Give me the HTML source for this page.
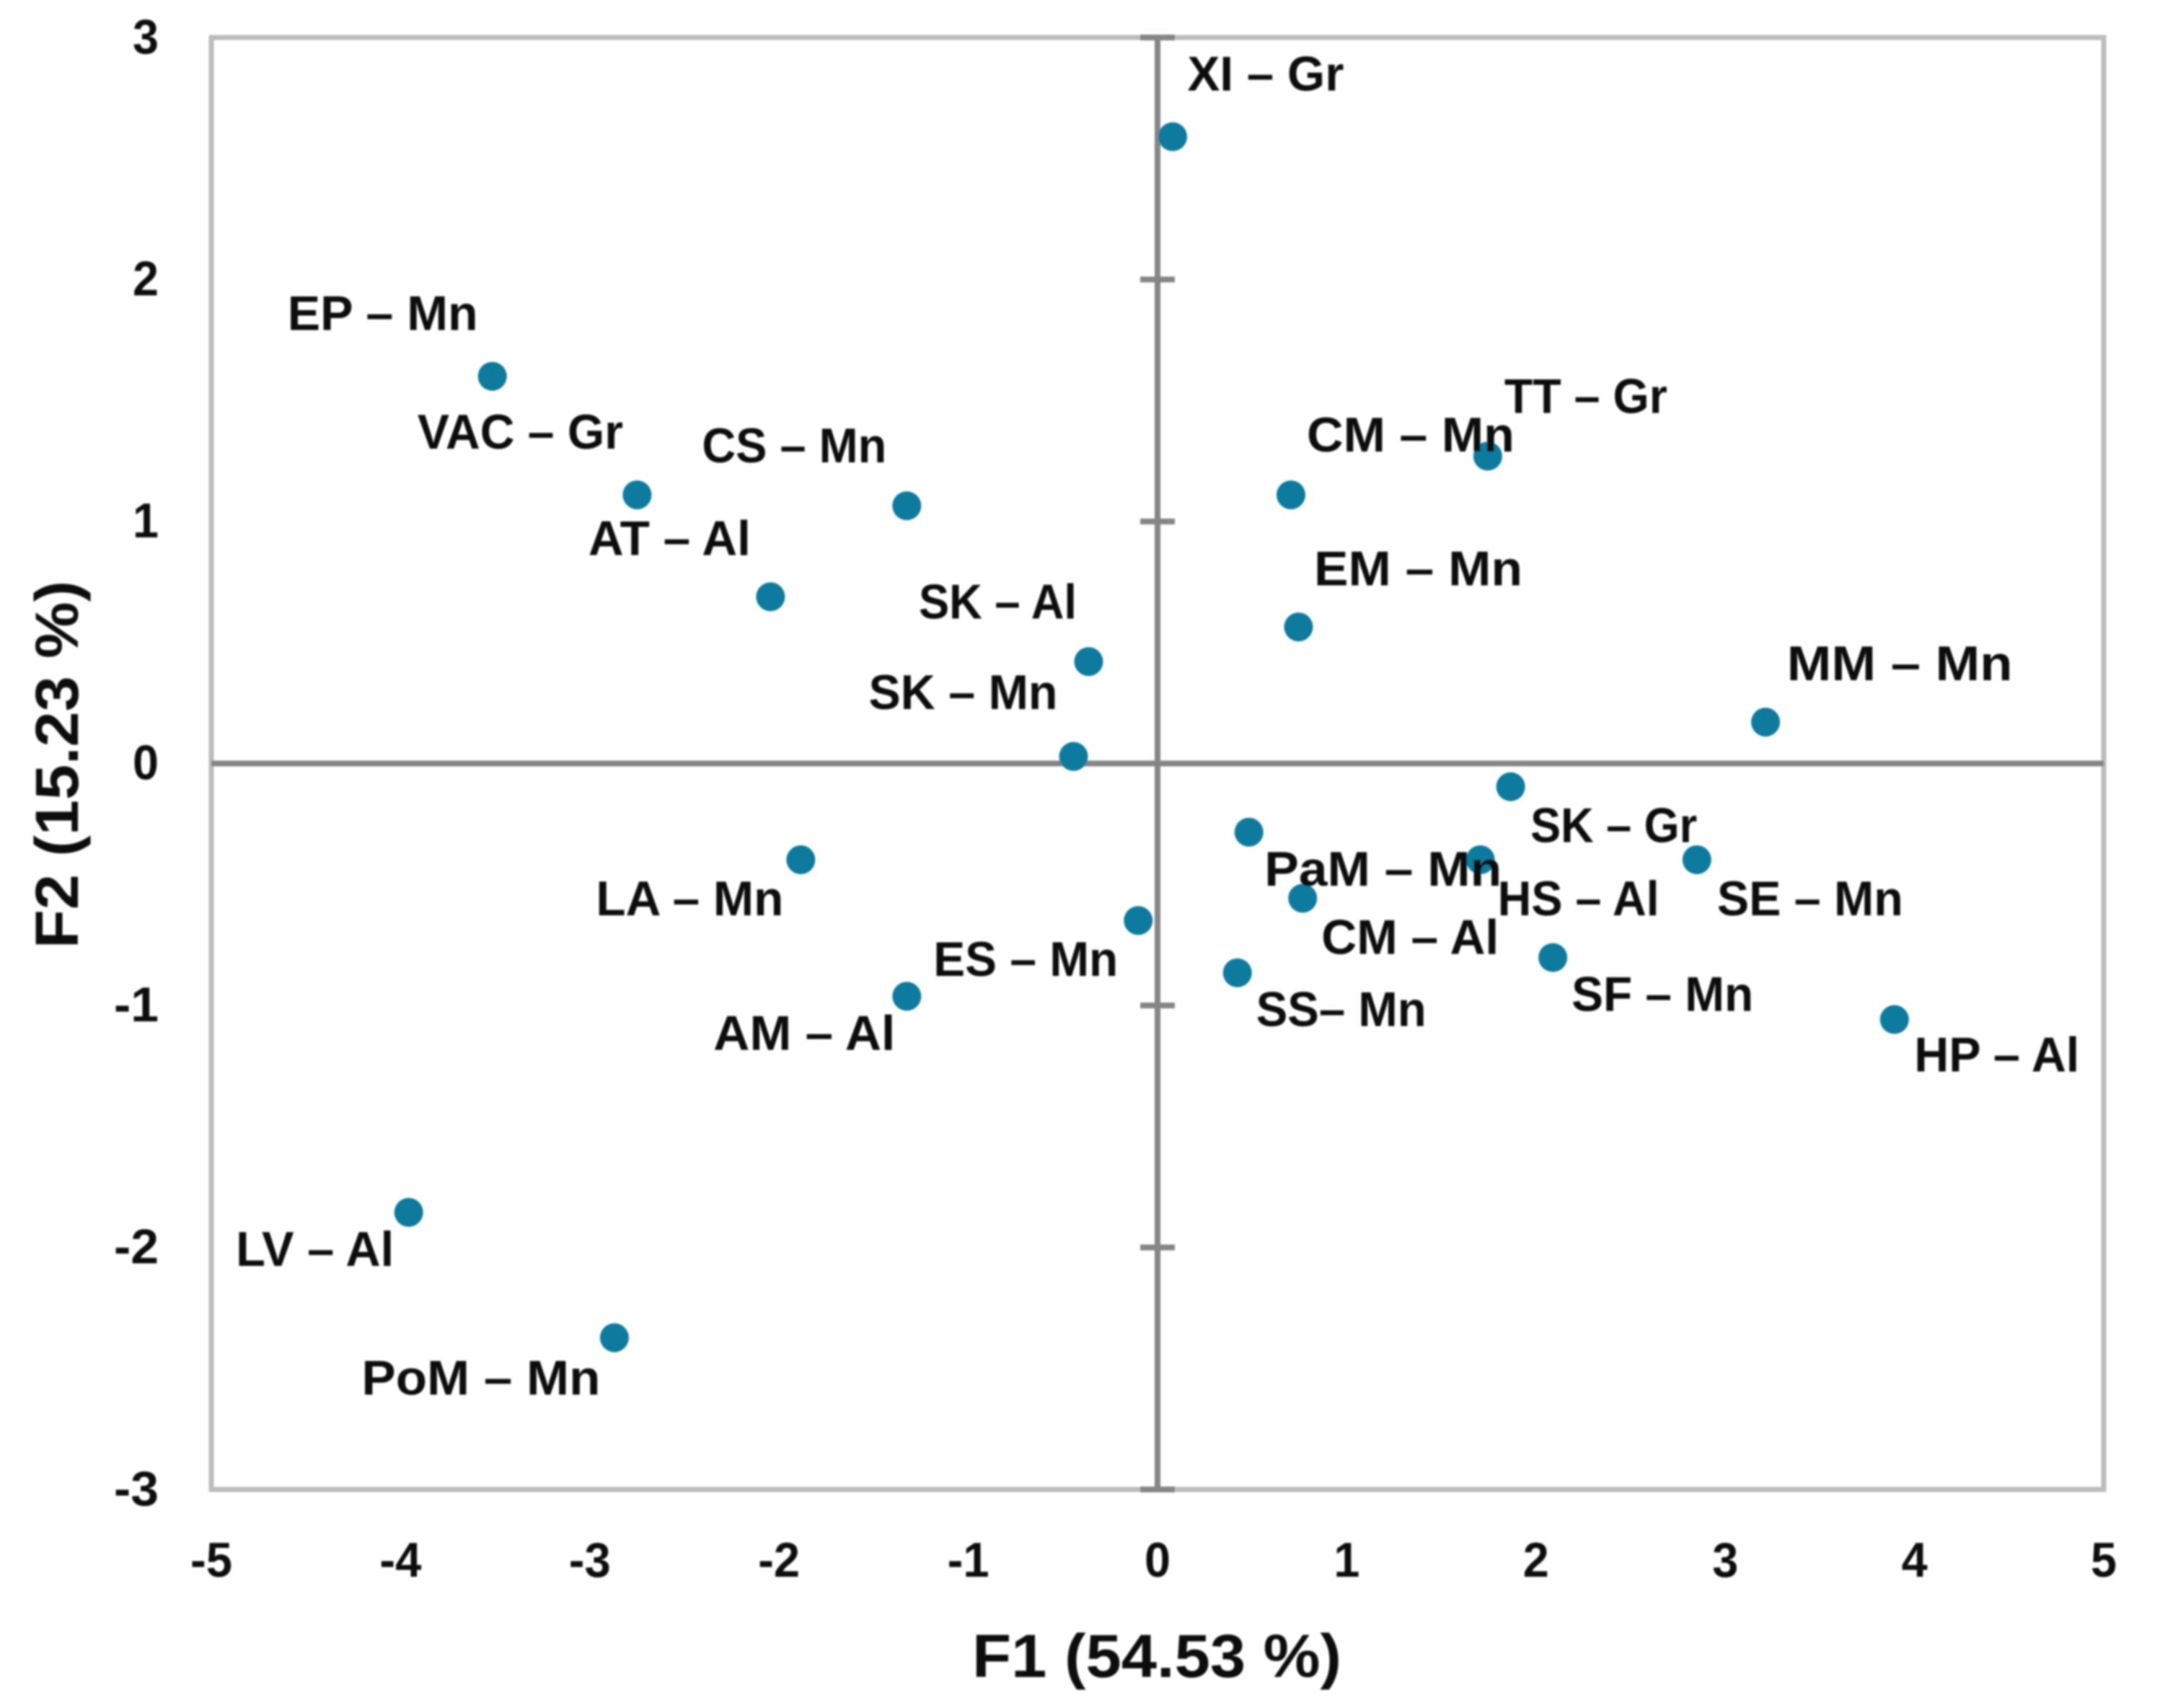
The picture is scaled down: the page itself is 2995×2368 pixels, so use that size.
<!DOCTYPE html>
<html lang="en">
<head>
<meta charset="utf-8">
<title>F1 / F2 score plot</title>
<style>
html,body{margin:0;padding:0;background:#fff;}
svg{display:block;}
text{font-family:"Liberation Sans",sans-serif;font-weight:bold;fill:#0c0c0c;}
</style>
</head>
<body>
<svg id="chart" xmlns="http://www.w3.org/2000/svg" width="2995" height="2368" viewBox="0 0 2995 2368">
  <defs><filter id="soft" x="0" y="0" width="100%" height="100%" filterUnits="userSpaceOnUse" primitiveUnits="userSpaceOnUse"><feGaussianBlur stdDeviation="1.2"/></filter></defs>
  <rect width="2995" height="2368" fill="#ffffff"/>
  <g id="root" filter="url(#soft)">
    <rect x="293" y="52" width="2624" height="2013" fill="none" stroke="#bcbcbc" stroke-width="7"/>
  </g>
</svg>
<script>
const sampleNames = ["XI – Gr","EP – Mn","VAC – Gr","CS – Mn","AT – Al","SK – Al","SK – Mn","CM – Mn","TT – Gr","EM – Mn","MM – Mn","SK – Gr","PaM – Mn","HS – Al","SE – Mn","CM – Al","LA – Mn","ES – Mn","SS– Mn","SF – Mn","AM – Al","HP – Al","LV – Al","PoM – Mn"];
const f1Values = [0.08,-3.515,-2.75,-1.325,-2.045,-0.364,-0.444,0.705,1.745,0.745,3.213,1.866,0.483,1.706,2.85,0.767,-1.885,-0.102,0.422,2.089,-1.325,3.894,-3.957,-2.87];
const f2Values = [2.59,1.6,1.11,1.065,0.689,0.421,0.029,1.11,1.27,0.564,0.171,-0.096,-0.284,-0.398,-0.398,-0.557,-0.398,-0.649,-0.865,-0.802,-0.962,-1.058,-1.855,-2.373];
const xTickValues = [-5,-4,-3,-2,-1,0,1,2,3,4,5];
const yTickValues = [3,2,1,0,-1,-2,-3];
const xAxisTitle = "F1 (54.53 %)";
const yAxisTitle = "F2 (15.23 %)";

const labelDx = [129,-152,-162,-156,-140,-126,-153,166,136,166,186,143,186,136,157,149,-154,-156,144,152,-142,142,-130,-185];
const labelDy = [-86,-86,-86,-82,-80,-82,-88,-82,-82,-80,-80,55,52,55,55,55,55,55,52,52,52,50,52,57];
const labelLen = [217,264,285,256,225,219,262,288,226,289,313,231,329,224,258,246,260,256,236,252,252,229,219,331];

const NS = "http://www.w3.org/2000/svg";
const root = document.getElementById("root");
const plot = {left:293,right:2917,top:52,bottom:2065};
const xMin = -5, xMax = 5, yMin = -3, yMax = 3;
function xScale(v){return plot.left + (v - xMin) / (xMax - xMin) * (plot.right - plot.left);}
function yScale(v){return plot.bottom - (v - yMin) / (yMax - yMin) * (plot.bottom - plot.top);}
function make(tag, attrs, text){
  const el = document.createElementNS(NS, tag);
  for (const k in attrs) el.setAttribute(k, attrs[k]);
  if (text !== undefined) el.textContent = text;
  root.appendChild(el);
  return el;
}

const hAxis = make("line",{x1:plot.left,x2:plot.right,y1:yScale(0),y2:yScale(0),stroke:"#858585","stroke-width":8});


const vAxis = make("line",{x1:xScale(0),x2:xScale(0),y1:plot.top,y2:plot.bottom,stroke:"#858585","stroke-width":8});



yTickValues.forEach(function(v){
  if (v !== 0) {
    const tick = make("line",{x1:xScale(0)-24,x2:xScale(0)+24,y1:yScale(v),y2:yScale(v),stroke:"#858585","stroke-width":8});
    
    
  }
  const label = make("text",{x:220,y:yScale(v)+22,"text-anchor":"end","font-size":68,textLength:String(v).length > 1 ? 62 : 36,lengthAdjust:"spacingAndGlyphs"}, String(v));
  
  
});

xTickValues.forEach(function(v){
  const label = make("text",{x:xScale(v),y:2186,"text-anchor":"middle","font-size":68,textLength:String(v).length > 1 ? 58 : 36,lengthAdjust:"spacingAndGlyphs"}, String(v));
  
  
});

f1Values.forEach(function(v,i){
  const dot = make("circle",{cx:xScale(v),cy:yScale(f2Values[i]),r:20,fill:"#077a9e"});
  
  
});

sampleNames.forEach(function(name,i){
  const label = make("text",{
    x:xScale(f1Values[i])+labelDx[i],
    y:yScale(f2Values[i])+labelDy[i]+22,
    "text-anchor":"middle","font-size":68,
    textLength:labelLen[i],lengthAdjust:"spacingAndGlyphs"
  }, name);
  
  
});

const xTitle = make("text",{x:1604,y:2325,"text-anchor":"middle","font-size":84,textLength:512,lengthAdjust:"spacingAndGlyphs",fill:"#1a1a1a"}, xAxisTitle);


const yTitle = make("text",{x:0,y:0,transform:"translate(108,1060) rotate(-90)","text-anchor":"middle","font-size":84,textLength:510,lengthAdjust:"spacingAndGlyphs",fill:"#1a1a1a"}, yAxisTitle);


</script>
</body>
</html>
